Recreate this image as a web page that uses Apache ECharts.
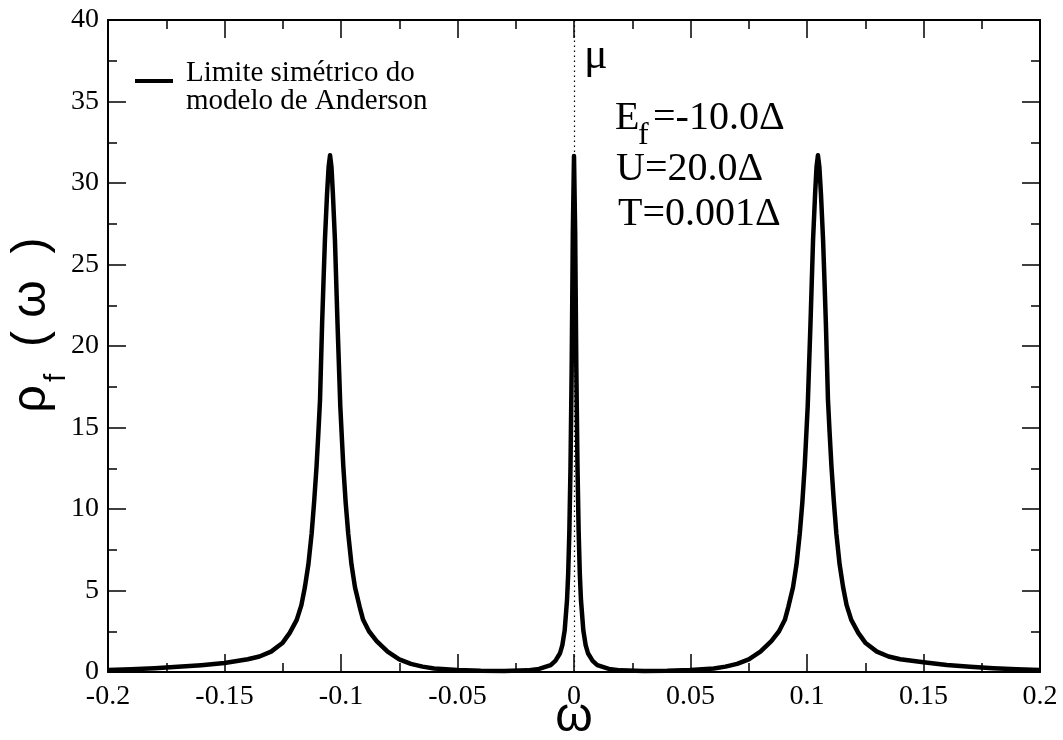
<!DOCTYPE html>
<html>
<head>
<meta charset="utf-8">
<script src="https://cdn.jsdelivr.net/npm/echarts@6/dist/echarts.min.js"></script>
<style>
  html, body { margin: 0; padding: 0; background: #fff; }
  #chart { width: 1063px; height: 740px; }
</style>
</head>
<body>
<div id="chart"></div>
<script>
// omega values (x)
const omega = [
  -0.2, -0.19, -0.18, -0.17, -0.16, -0.15, -0.14, -0.135, -0.13, -0.125,
  -0.122, -0.119, -0.117, -0.1155, -0.114, -0.1126, -0.1115, -0.1105, -0.1097, -0.109,
  -0.1081, -0.1075, -0.1069, -0.106, -0.1053, -0.1047, -0.1041, -0.1035, -0.1026, -0.1015,
  -0.1003, -0.0995, -0.099, -0.098, -0.0969, -0.0955, -0.094, -0.092, -0.0905, -0.088,
  -0.0847, -0.08, -0.075, -0.07, -0.065, -0.06, -0.05, -0.04, -0.03, -0.02,
  -0.015, -0.01, -0.008, -0.006, -0.005, -0.004, -0.003, -0.0025, -0.002, -0.0015,
  -0.001, -0.0005, 0,
  0.0005, 0.001, 0.0015, 0.002, 0.0025, 0.003, 0.004, 0.005, 0.006, 0.008,
  0.01, 0.015, 0.02, 0.03, 0.04, 0.05, 0.06, 0.065, 0.07, 0.075,
  0.08, 0.0847, 0.088, 0.0905, 0.092, 0.094, 0.0955, 0.0969, 0.098, 0.099,
  0.0995, 0.1003, 0.1015, 0.1026, 0.1035, 0.1041, 0.1047, 0.1053, 0.106, 0.1069,
  0.1075, 0.1081, 0.109, 0.1097, 0.1105, 0.1115, 0.1126, 0.114, 0.1155, 0.117,
  0.119, 0.122, 0.125, 0.13, 0.135, 0.14, 0.15, 0.16, 0.17, 0.18,
  0.19, 0.2
];

// rho_f(omega) values
const rho = [
  0.13, 0.17, 0.23, 0.32, 0.42, 0.55, 0.78, 0.95, 1.25, 1.8,
  2.4, 3.2, 4.1, 5.2, 6.6, 8.5, 10.5, 12.6, 14.7, 16.7,
  21.4, 24.0, 26.5, 29.3, 31.0, 31.7, 31.0, 29.4, 26.5, 21.4,
  16.3, 14.0, 12.6, 10.4, 8.5, 6.6, 5.2, 4.0, 3.2, 2.5,
  1.9, 1.25, 0.78, 0.5, 0.33, 0.22, 0.12, 0.07, 0.06, 0.1,
  0.19, 0.42, 0.68, 1.15, 1.65, 2.55, 4.4, 6.0, 8.6, 12.6,
  18.6, 27.0, 31.65,
  27.0, 18.6, 12.6, 8.6, 6.0, 4.4, 2.55, 1.65, 1.15, 0.68,
  0.42, 0.19, 0.1, 0.06, 0.07, 0.12, 0.22, 0.33, 0.5, 0.78,
  1.25, 1.9, 2.5, 3.2, 4.0, 5.2, 6.6, 8.5, 10.4, 12.6,
  14.0, 16.3, 21.4, 26.5, 29.4, 31.0, 31.7, 31.0, 29.3, 26.5,
  24.0, 21.4, 16.7, 14.7, 12.6, 10.5, 8.5, 6.6, 5.2, 4.1,
  3.2, 2.4, 1.8, 1.25, 0.95, 0.78, 0.6, 0.43, 0.32, 0.23,
  0.17, 0.12
];

const xTickLabels = ['-0.2', '-0.15', '-0.1', '-0.05', '0', '0.05', '0.1', '0.15', '0.2'];
const yTickLabels = ['0', '5', '10', '15', '20', '25', '30', '35', '40'];
const seriesName = 'Limite simétrico do\nmodelo de Anderson';

const xMin = -0.2, xMax = 0.2, xStep = 0.05;
const yMin = 0, yMax = 40, yStep = 5;

const serif = '"Liberation Serif", "DejaVu Serif", serif';
const sans = '"Liberation Sans", Arial, sans-serif';

const chart = echarts.init(document.getElementById('chart'));

const tickCommon = {
  axisLine: { show: true, onZero: false, lineStyle: { color: '#000', width: 2 } },
  axisTick: { show: true, inside: true, length: 18, lineStyle: { color: '#000', width: 1.5 } },
  minorTick: { show: true, splitNumber: 2, length: 9, lineStyle: { color: '#000', width: 1.5 } },
  splitLine: { show: false },
  minorSplitLine: { show: false }
};

const option = {
  backgroundColor: '#fff',
  animation: false,
  grid: { left: 108, right: 23, top: 20, bottom: 68, containLabel: false, outerBoundsMode: 'none' },
  legend: {
    left: 130,
    top: 40,
    icon: 'rect',
    itemWidth: 38,
    itemHeight: 4,
    data: [seriesName],
    formatter: name => {
      const lines = name.split('\n');
      return '{a|' + lines[0] + '}\n{b|' + lines[1] + '}';
    },
    textStyle: {
      color: '#000',
      padding: [0, 0, 0, 8],
      rich: {
        a: { fontFamily: serif, fontSize: 29, lineHeight: 29, color: '#000', padding: [14, 0, 0, 0] },
        b: { fontFamily: serif, fontSize: 29, lineHeight: 29, color: '#000', padding: [12, 0, 0, 0] }
      }
    }
  },
  xAxis: [
    Object.assign({
      type: 'value',
      min: xMin,
      max: xMax,
      interval: xStep,
      name: 'ω',
      nameLocation: 'middle',
      nameGap: 22,
      nameMoveOverlap: false,
      nameTextStyle: { fontFamily: sans, fontSize: 48, color: '#000' },
      axisLabel: {
        color: '#000',
        fontFamily: serif,
        fontSize: 28,
        margin: 11,
        formatter: v => xTickLabels[Math.round((v - xMin) / xStep)]
      }
    }, tickCommon),
    Object.assign({
      type: 'value',
      position: 'top',
      min: xMin,
      max: xMax,
      interval: xStep,
      axisLabel: { show: false }
    }, tickCommon)
  ],
  yAxis: [
    Object.assign({
      type: 'value',
      min: yMin,
      max: yMax,
      interval: yStep,
      name: '{r|ρ}{s|f}{r|  ( ω  )}',
      nameLocation: 'middle',
      nameGap: 36,
      nameMoveOverlap: false,
      nameTextStyle: {
        padding: [0, 0, 0, 42],
        rich: {
          r: { fontFamily: sans, fontSize: 48, color: '#000' },
          s: { fontFamily: sans, fontSize: 30, color: '#000', padding: [50, 0, 0, 3] }
        }
      },
      axisLabel: {
        color: '#000',
        fontFamily: serif,
        fontSize: 28,
        margin: 9,
        formatter: v => yTickLabels[Math.round((v - yMin) / yStep)]
      }
    }, tickCommon),
    Object.assign({
      type: 'value',
      position: 'right',
      min: yMin,
      max: yMax,
      interval: yStep,
      axisLabel: { show: false }
    }, tickCommon)
  ],
  series: [
    {
      name: seriesName,
      type: 'line',
      xAxisIndex: 0,
      yAxisIndex: 0,
      data: omega.map((x, i) => [x, rho[i]]),
      showSymbol: false,
      symbol: 'none',
      lineStyle: { color: '#000', width: 4.5, join: 'round' },
      itemStyle: { color: '#000' },
      z: 3,
      markLine: {
        silent: true,
        symbol: 'none',
        label: { show: false },
        lineStyle: { color: '#000', width: 1.2, type: [1.5, 3.5] },
        data: [{ xAxis: 0 }]
      }
    }
  ],
  graphic: [
    { type: 'text', left: 584, top: 34,
      style: { text: 'μ', font: '44px ' + serif, fill: '#000' } },
    { type: 'text', left: 615, top: 98,
      style: { text: 'E', font: '40px ' + serif, fill: '#000' } },
    { type: 'text', left: 638, top: 120,
      style: { text: 'f', font: '32px ' + serif, fill: '#000' } },
    { type: 'text', left: 653, top: 98,
      style: { text: '=-10.0Δ', font: '40px ' + serif, fill: '#000' } },
    { type: 'text', left: 616, top: 149,
      style: { text: 'U=20.0Δ', font: '40px ' + serif, fill: '#000' } },
    { type: 'text', left: 618, top: 194,
      style: { text: 'T=0.001Δ', font: '40px ' + serif, fill: '#000' } }
  ]
};

chart.setOption(option);
window.addEventListener('resize', () => chart.resize());
</script>
</body>
</html>
